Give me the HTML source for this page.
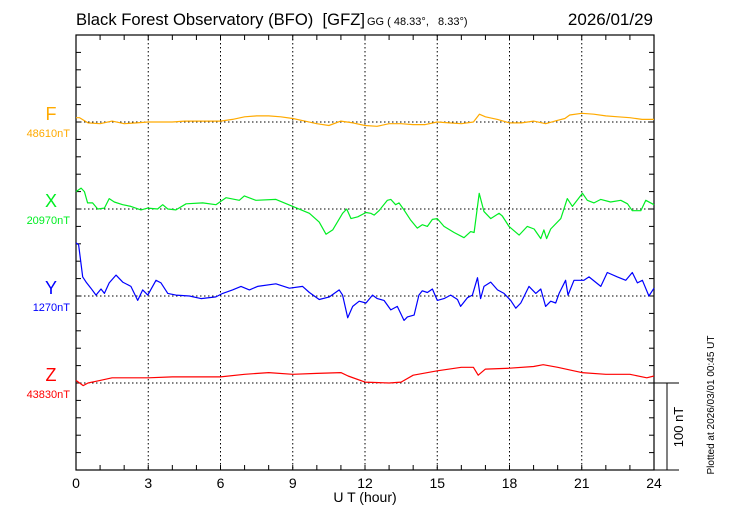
<!DOCTYPE html>
<html><head><meta charset="utf-8"><style>
html,body{margin:0;padding:0;background:#fff;width:730px;height:520px;overflow:hidden}
svg{display:block;font-family:"Liberation Sans",sans-serif}
text{white-space:pre}
</style></head><body>
<svg id="chart" width="730" height="520" viewBox="0 0 730 520">
<text x="76" y="25" font-size="17" textLength="289" lengthAdjust="spacingAndGlyphs" xml:space="preserve">Black Forest Observatory (BFO)  [GFZ]</text>
<text x="367" y="25" font-size="11" xml:space="preserve">GG ( 48.33°,   8.33°)</text>
<text x="653" y="25" font-size="17" text-anchor="end">2026/01/29</text>
<text x="365" y="502" font-size="14" text-anchor="middle">U T (hour)</text>
<text transform="translate(714,405) rotate(-90)" font-size="10" text-anchor="middle">Plotted at 2026/03/01 00:45 UT</text>
<text transform="translate(683,427) rotate(-90)" font-size="13" text-anchor="middle">100 nT</text>
<g id="grid"></g><g id="axes"></g><g id="series"></g><g id="labels"></g>
</svg>
<script>
const xTicks=[0,3,6,9,12,15,18,21,24];
const compNames=['F','X','Y','Z'];
const compColors=['#ffaa00','#00ee22','#0000ff','#ff0000'];
const compBase=['48610nT','20970nT','1270nT','43830nT'];
const fHours=[0,0.15,0.5,1,1.5,2,2.5,3,3.5,4,4.5,5,5.5,6,6.5,7,7.5,8,8.5,9,9.5,10,10.5,11,11.5,12,12.5,13,13.5,14,14.5,15,15.5,16,16.5,16.75,17,17.5,18,18.5,19,19.5,20,20.3,20.5,21,21.5,22,22.5,23,23.5,24];
const fVals=[5,5,-1,-2,1,-2,-1,0,0,0,1,1,1,1,3,6,7,7,6,4,1,-2,-4,1,-1,-4,-5,-2,-2,-3,-3,0,-1,-2,0,9,6,3,-1,-1,1,-2,2,4,8,10,9,7,6,5,3,3];
const xHours=[0,0.21,0.35,0.48,0.69,0.9,1.18,1.38,1.59,1.94,2.28,2.7,2.98,3.39,3.6,3.81,4.15,4.57,5.26,5.81,6.23,6.78,6.99,7.47,8.3,9.0,9.69,10.1,10.38,10.66,11.07,11.24,11.42,11.7,12.04,12.24,12.38,12.58,12.93,13.07,13.27,13.41,13.62,13.9,14.17,14.38,14.59,14.8,15.0,15.28,15.7,16.11,16.39,16.53,16.74,16.94,17.22,17.57,17.7,17.98,18.4,18.74,19.02,19.3,19.43,19.54,19.71,20.13,20.4,20.61,21.03,21.23,21.51,21.79,22.2,22.62,22.9,23.1,23.45,23.66,24.0];
const xVals=[20,24,20,7,7,0,1,12,8,5,3,-1,1,0,5,0,-1,6,7,5,13,10,15,10,11,3,-5,-15,-29,-24,-5,0,-11,-9,-4,-5,-7,-2,10,11,5,7,-1,-13,-22,-18,-20,-12,-11,-20,-27,-33,-26,-27,18,-3,-11,-5,-8,-20,-30,-20,-23,-34,-24,-34,-23,-11,12,3,18,10,7,11,8,10,6,-2,-2,10,5];
const yHours=[0,0.11,0.28,0.42,0.62,0.83,1.04,1.18,1.38,1.66,1.94,2.28,2.56,2.77,2.98,3.32,3.53,3.81,4.15,4.71,5.19,5.81,6.09,6.5,6.85,7.2,7.54,8.3,8.86,9.41,9.69,10.1,10.52,10.93,11.07,11.28,11.49,11.76,12.04,12.31,12.51,12.79,13.07,13.34,13.62,13.76,14.04,14.24,14.38,14.59,14.8,15.0,15.28,15.56,15.84,15.97,16.25,16.46,16.67,16.8,16.94,17.22,17.5,17.77,18.05,18.26,18.47,18.81,19.09,19.3,19.5,19.71,19.92,20.06,20.33,20.43,20.68,21.09,21.3,21.79,22.06,22.48,22.83,23.1,23.31,23.52,23.79,24.0];
const yVals=[61,59,22,16,9,1,8,3,15,24,16,11,-5,7,1,18,15,3,1,0,-3,-1,3,7,11,7,11,14,9,11,4,-4,-1,7,1,-25,-12,-6,-8,1,-3,-5,-16,-12,-28,-24,-22,1,6,4,8,-5,-3,1,-4,-12,-2,1,21,-3,11,16,7,3,-5,-14,-8,11,3,8,-12,-6,-8,3,18,1,18,18,22,11,27,22,18,27,15,18,0,9];
const zHours=[0,0.3,0.5,1,1.5,3,4,6,7,8,9,10,11,11.3,12,13,13.5,14,15,16,16.5,16.7,17,18,19,19.4,20,20.5,21,22,23,23.7,24];
const zVals=[3,-3,0,3,6,6,7,7,10,12,10,11,12,8,1,0,1,9,14,18,18,9,16,17,19,21,18,15,12,10,10,6,8];
const seriesH=[fHours,xHours,yHours,zHours], seriesV=[fVals,xVals,yVals,zVals];
const X0=76,X1=654,Y0=35,Y1=470,PXNT=0.87;
const baseY=[122,209,296,383];
const xs=h=>X0+(X1-X0)*h/24;
const ys=(i,v)=>baseY[i]-v*PXNT;
const NS='http://www.w3.org/2000/svg';
function mk(tag,attrs,parent){const e=document.createElementNS(NS,tag);for(const k in attrs)e.setAttribute(k,attrs[k]);document.getElementById(parent).appendChild(e);return e;}
xTicks.forEach(t=>{
 if(t>0&&t<24){const g=mk('line',{x1:xs(t),x2:xs(t),y1:Y0,y2:Y1,stroke:'#000','stroke-dasharray':'1.5,2.5','stroke-width':1},'grid');
 
 }
 const tl=mk('text',{x:xs(t),y:488,'font-size':14,'text-anchor':'middle'},'labels');tl.textContent=t;
 
 
});
baseY.forEach((b,i)=>{const g=mk('line',{x1:X0,x2:X1,y1:b,y2:b,stroke:'#000','stroke-dasharray':'1.5,2.5','stroke-width':1},'grid');
 
 });
const fr=mk('rect',{x:X0,y:Y0,width:X1-X0,height:Y1-Y0,fill:'none',stroke:'#000','stroke-width':1.2},'axes');


for(let h=1;h<24;h++){mk('line',{x1:xs(h),x2:xs(h),y1:Y0,y2:Y0+5,stroke:'#000'},'axes');mk('line',{x1:xs(h),x2:xs(h),y1:Y1,y2:Y1-5,stroke:'#000'},'axes');}
for(let k=1;k<25;k++){const y=Y0+k*87/5;if(y>=Y1)break;mk('line',{x1:X0,x2:X0+5,y1:y,y2:y,stroke:'#000'},'axes');mk('line',{x1:X1,x2:X1-5,y1:y,y2:y,stroke:'#000'},'axes');}
mk('line',{x1:X1,x2:679,y1:Y1,y2:Y1,stroke:'#000'},'axes');
const sb=mk('path',{d:'M654,383H679M667,383V470',stroke:'#000',fill:'none'},'axes');


seriesH.forEach((hs,i)=>{
 const d=hs.map((h,j)=>(j?'L':'M')+xs(h).toFixed(1)+','+ys(i,seriesV[i][j]).toFixed(1)).join('');
 const p=mk('path',{d:d,fill:'none',stroke:compColors[i],'stroke-width':1.2,'stroke-linejoin':'round'},'series');
 
 
 const n=mk('text',{x:51,y:baseY[i]-2,'font-size':18,'text-anchor':'middle',fill:compColors[i]},'labels');n.textContent=compNames[i];
 
 
 const v=mk('text',{x:70,y:baseY[i]+15,'font-size':11,'text-anchor':'end',fill:compColors[i]},'labels');v.textContent=compBase[i];
 
 
});
</script>
</body></html>
